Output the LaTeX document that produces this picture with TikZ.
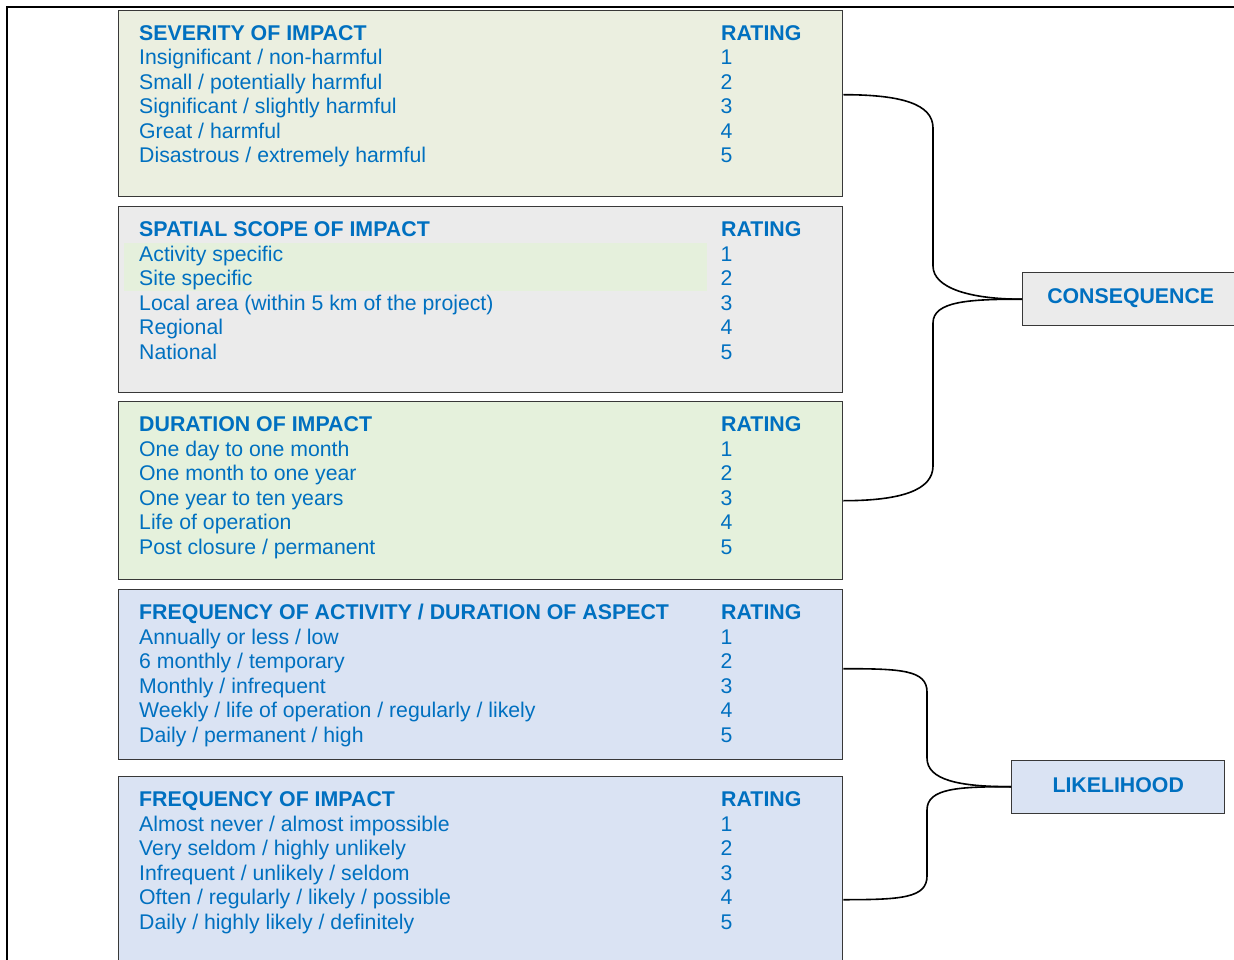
\documentclass[tikz,border=0pt]{standalone}
\usepackage{fontspec}
\setmainfont{Liberation Sans}
\usetikzlibrary{calc}

\definecolor{txtblue}{HTML}{0070C0}
\definecolor{sevfill}{HTML}{EBEFE0}
\definecolor{grayfill}{HTML}{EBEBEB}
\definecolor{durfill}{HTML}{E5F1DC}
\definecolor{stripfill}{HTML}{E5F0DC}
\definecolor{bluefill}{HTML}{DAE3F3}
\definecolor{edge}{HTML}{383838}

\tikzset{
  panel/.style={draw=edge, line width=1.4pt, anchor=north west, inner sep=0pt, minimum width=724pt},
  head/.style={anchor=base west, inner sep=0pt, text=txtblue, font=\fontsize{21.35}{24}\selectfont\bfseries},
  entry/.style={anchor=base west, inner sep=0pt, text=txtblue, font=\fontsize{21.25}{24}\selectfont},
  tag/.style={draw=edge, line width=1.4pt, inner sep=0pt, text=txtblue, font=\fontsize{21.3}{24}\selectfont\bfseries},
  tagtext/.style={text=txtblue, inner sep=0pt, font=\fontsize{21.3}{24}\selectfont\bfseries},
  link/.style={line width=1.6pt, black},
  frame/.style={line width=2pt, black},
}

% #1 name, #2 top edge, #3 height, #4 fill colour
\newcommand\panelbox[4]{%
  \node[panel, fill=#4, minimum height=#3pt] (#1) at (118,#2) {};%
}
% #1 name, #2 top edge, #3 heading, #4 entries (rated 1 to 5)
\newcommand\paneltext[4]{%
  \node[head] (#1-h) at (139,{#2+30.5}) {#3};
  \node[head] (#1-r) at (721,{#2+30.5}) {RATING};
  \foreach \t [count=\i] in {#4} {
    \node[entry] (#1-t\i) at (139,{#2+30.5+24.5*\i}) {\t};
    \node[entry] (#1-n\i) at (720.5,{#2+30.5+24.5*\i}) {\i};
  }%
}

\begin{document}
\begin{tikzpicture}[x=1pt, y=-1pt]
  \useasboundingbox (0,0) rectangle (1234,960);
  \clip (0,0) rectangle (1234,960);

  % page frame
  \coordinate (fbl) at (7,970);
  \coordinate (ftl) at (7,7.5);
  \coordinate (ftr) at (1240,7.5);
  \draw[frame] (fbl) -- (ftl) -- (ftr);

  % rating panels
  \panelbox{sev}{10}{186}{sevfill}
  \panelbox{spa}{206}{186}{grayfill}
  \node[fill=stripfill, inner sep=0pt, anchor=north west, minimum width=583pt, minimum height=48pt] (spa-strip) at (124,243) {};
  \panelbox{dur}{401}{178}{durfill}
  \panelbox{fa}{589}{170}{bluefill}
  \panelbox{fi}{776}{200}{bluefill}

  \paneltext{sev}{10}{SEVERITY OF IMPACT}
    {{Insignificant / non-harmful},{Small / potentially harmful},{Significant / slightly harmful},{Great / harmful},{Disastrous / extremely harmful}}
  \paneltext{spa}{206}{SPATIAL SCOPE OF IMPACT}
    {{Activity specific},{Site specific},{Local area (within 5 km of the project)},{Regional},{National}}
  \paneltext{dur}{401}{DURATION OF IMPACT}
    {{One day to one month},{One month to one year},{One year to ten years},{Life of operation},{Post closure / permanent}}
  \paneltext{fa}{589}{FREQUENCY OF ACTIVITY / DURATION OF ASPECT}
    {{Annually or less / low},{6 monthly / temporary},{Monthly / infrequent},{Weekly / life of operation / regularly / likely},{Daily / permanent / high}}
  \paneltext{fi}{776}{FREQUENCY OF IMPACT}
    {{Almost never / almost impossible},{Very seldom / highly unlikely},{Infrequent / unlikely / seldom},{Often / regularly / likely / possible},{Daily / highly likely / definitely}}

  % summary boxes
  \node[tag, fill=grayfill, minimum width=216pt, minimum height=53pt, anchor=north west] (cons) at (1022,272) {};
  \node[tagtext] (cons-t) at ($(cons.center)+(0,-1.5)$) {CONSEQUENCE};
  \node[tag, fill=bluefill, minimum width=213pt, minimum height=53pt, anchor=north west] (lik) at (1011,759.5) {};
  \node[tagtext] (lik-t) at ($(lik.center)+(0,-1.5)$) {LIKELIHOOD};

  % brackets joining the panels to the summary boxes
  \draw[link] ($(sev.east)+(0,-9)$) .. controls +(58,0) and +(0,-24) .. (933,128)
              -- (933,266) .. controls +(0,22) and +(-52,0) .. (cons.west);
  \draw[link] (cons.west) .. controls +(-52,0) and +(0,-22) .. (933,323)
              -- (933,466) .. controls +(0,24) and +(58,0) .. ($(dur.east)+(0,10)$);
  \draw[link] ($(fa.east)+(0,-6)$) .. controls +(58,0) and +(0,-22) .. (927,692)
              -- (927,758) .. controls +(0,22) and +(-52,0) .. (lik.west);
  \draw[link] (lik.west) .. controls +(-52,0) and +(0,-22) .. (927,810)
              -- (927,876) .. controls +(0,22) and +(58,0) .. ($(fi.east)+(0,23)$);
\end{tikzpicture}
\end{document}
